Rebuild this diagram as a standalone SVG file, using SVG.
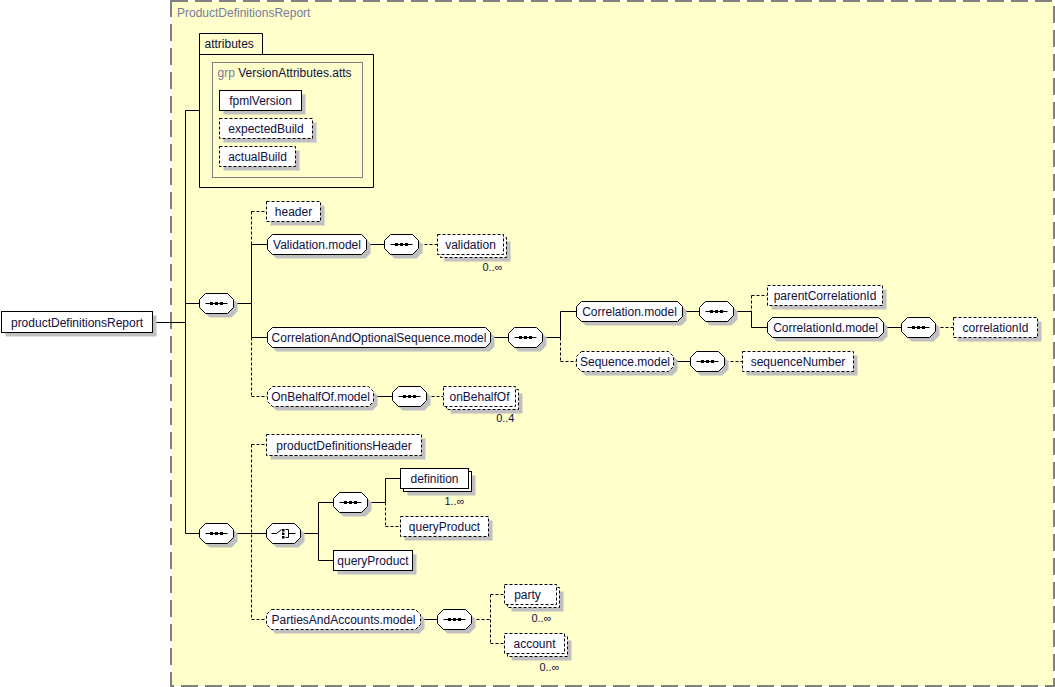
<svg xmlns="http://www.w3.org/2000/svg" xmlns:xlink="http://www.w3.org/1999/xlink" width="1055" height="687" viewBox="0 0 1055 687">
<style>
.el{fill:#fff;stroke:#000;stroke-width:1}
.opt{stroke-dasharray:3,2}
.sh{fill:#c0c0c0;stroke:none}
.ln{stroke:#000;stroke-width:1;fill:none}
.dl{stroke-dasharray:3,2}
.t{font-family:"Liberation Sans",Arial,sans-serif;font-size:12px;fill:#101040}
.tc{text-anchor:middle}
.m{font-family:"Liberation Sans",Arial,sans-serif;font-size:11px;fill:#101040;text-anchor:end}
.g{fill:#7a7a9a}
</style>
<defs>
<g id="seq">
<path class="sh" d="M10 4 H32 L38 10 V18 L32 24 H10 L4 18 V10 Z"/>
<path class="el" d="M6 0 H28 L34 6 V14 L28 20 H6 L0 14 V6 Z"/>
<line class="ln" x1="6" y1="10" x2="28" y2="10"/>
<rect x="10.5" y="8.5" width="3" height="3" fill="#000"/>
<rect x="15.5" y="8.5" width="3" height="3" fill="#000"/>
<rect x="20.5" y="8.5" width="3" height="3" fill="#000"/>
</g>
<g id="choice">
<path class="sh" d="M10 4 H32 L38 10 V18 L32 24 H10 L4 18 V10 Z"/>
<path class="el" d="M6 0 H28 L34 6 V14 L28 20 H6 L0 14 V6 Z"/>
<path class="ln" d="M5 10 H10 L15 6"/>
<rect x="15.5" y="5.5" width="2.5" height="2.5" fill="#000"/>
<rect x="15.5" y="9" width="2.5" height="2.5" fill="#000"/>
<rect x="15.5" y="12.5" width="2.5" height="2.5" fill="#000"/>
<path class="ln" d="M19 6 H22 V14 H19 M22 10 H29"/>
</g>
</defs>
<rect x="0" y="0" width="1055" height="687" fill="#fff"/>
<rect x="171" y="1" width="883" height="685" fill="#ffffcc" stroke="#808080" stroke-width="2" stroke-dasharray="17,7"/>
<text x="177" y="17" class="t g">ProductDefinitionsReport</text>
<g transform="translate(0.5,0.5)">
<g id="connectors">
<path class="ln" d="M152 322 H185 M185 110 V533 M185 110 H199 M185 303 H199 M185 533 H199 M233 303 H251 M251 244 V337 M251 244 H267 M251 337 H267 M366 244 H384 M490 337 H508 M543 337 H560 M560 311 V337 M560 311 H576 M682 311 H699 M733 311 H751 M751 311 V327 M751 327 H767 M883 327 H901 M673 361 H690 M373 396 H392 M233 533 H266 M301 533 H318 M318 502 V560 M318 502 H333 M318 560 H333 M367 502 H385 M385 478 V502 M385 478 H400 M420 619 H437"/>
<path class="ln dl" d="M251 211 V244 M251 211 H266 M251 337 V396 M251 396 H267 M419 244 H437 M560 337 V361 M560 361 H576 M751 295 V311 M751 295 H767 M935 327 H953 M725 361 H742 M426 396 H443 M251 444 V619 M251 444 H266 M251 619 H266 M385 502 V526 M385 526 H400 M471 619 H490 M490 594 V643 M490 594 H504 M490 643 H504"/>
</g>
<g id="productDefinitionsReport">
<rect class="sh" x="5" y="315" width="151" height="21"/>
<rect class="el" x="1" y="311" width="151" height="21"/>
<text x="76.5" y="326" class="t tc">productDefinitionsReport</text>
</g>
<g id="attributes">
<path class="ln" d="M199 33 H262 V54 H373 V187 H199 Z M199 54 H262"/>
<text x="204" y="47" class="t">attributes</text>
<rect x="212" y="62" width="150" height="115" fill="none" stroke="#808080"/>
<text x="217" y="76" class="t"><tspan class="g">grp</tspan> VersionAttributes.atts</text>
</g>
<g id="fpmlVersion">
<rect class="sh" x="223" y="94" width="82" height="20"/>
<rect class="el" x="219" y="90" width="82" height="20"/>
<text x="260" y="104.5" class="t tc">fpmlVersion</text>
</g>
<g id="expectedBuild">
<rect class="sh" x="223" y="122" width="93" height="20"/>
<rect class="el opt" x="219" y="118" width="93" height="20"/>
<text x="265.5" y="132.5" class="t tc">expectedBuild</text>
</g>
<g id="actualBuild">
<rect class="sh" x="223" y="150" width="76" height="20"/>
<rect class="el opt" x="219" y="146" width="76" height="20"/>
<text x="257" y="160.5" class="t tc">actualBuild</text>
</g>
<g id="seq1"><use xlink:href="#seq" href="#seq" x="199" y="293"/></g>
<g id="header">
<rect class="sh" x="270" y="205" width="54" height="20"/>
<rect class="el opt" x="266" y="201" width="54" height="20"/>
<text x="293" y="215.5" class="t tc">header</text>
</g>
<g id="Validation.model">
<path class="sh" transform="translate(4,4)" d="M272 234 H361 L366 239 V249 L361 254 H272 L267 249 V239 Z"/>
<path class="el" d="M272 234 H361 L366 239 V249 L361 254 H272 L267 249 V239 Z"/>
<text x="316.5" y="248.5" class="t tc">Validation.model</text>
</g>
<g id="seq2"><use xlink:href="#seq" href="#seq" x="384" y="234"/></g>
<g id="validation">
<rect class="sh" x="444" y="241" width="66" height="20"/>
<rect class="el opt" x="440" y="237" width="66" height="20"/>
<rect class="el opt" x="437" y="234" width="66" height="20"/>
<text x="470" y="248.5" class="t tc">validation</text>
<text x="502" y="270" class="m">0..∞</text>
</g>
<g id="CorrelationAndOptionalSequence.model">
<path class="sh" transform="translate(4,4)" d="M272 327 H485 L490 332 V342 L485 347 H272 L267 342 V332 Z"/>
<path class="el" d="M272 327 H485 L490 332 V342 L485 347 H272 L267 342 V332 Z"/>
<text x="378.5" y="341.5" class="t tc">CorrelationAndOptionalSequence.model</text>
</g>
<g id="seq3"><use xlink:href="#seq" href="#seq" x="508" y="327"/></g>
<g id="Correlation.model">
<path class="sh" transform="translate(4,4)" d="M581 301 H677 L682 306 V316 L677 321 H581 L576 316 V306 Z"/>
<path class="el" d="M581 301 H677 L682 306 V316 L677 321 H581 L576 316 V306 Z"/>
<text x="629" y="315.5" class="t tc">Correlation.model</text>
</g>
<g id="seq4"><use xlink:href="#seq" href="#seq" x="699" y="301"/></g>
<g id="parentCorrelationId">
<rect class="sh" x="771" y="289" width="115" height="20"/>
<rect class="el opt" x="767" y="285" width="115" height="20"/>
<text x="824.5" y="299.5" class="t tc">parentCorrelationId</text>
</g>
<g id="CorrelationId.model">
<path class="sh" transform="translate(4,4)" d="M772 317 H878 L883 322 V332 L878 337 H772 L767 332 V322 Z"/>
<path class="el" d="M772 317 H878 L883 322 V332 L878 337 H772 L767 332 V322 Z"/>
<text x="825" y="331.5" class="t tc">CorrelationId.model</text>
</g>
<g id="seq5"><use xlink:href="#seq" href="#seq" x="901" y="317"/></g>
<g id="correlationId">
<rect class="sh" x="957" y="321" width="84" height="20"/>
<rect class="el opt" x="953" y="317" width="84" height="20"/>
<text x="995" y="331.5" class="t tc">correlationId</text>
</g>
<g id="Sequence.model">
<path class="sh" transform="translate(4,4)" d="M581 351 H668 L673 356 V366 L668 371 H581 L576 366 V356 Z"/>
<path class="el opt" d="M581 351 H668 L673 356 V366 L668 371 H581 L576 366 V356 Z"/>
<text x="624.5" y="365.5" class="t tc">Sequence.model</text>
</g>
<g id="seq6"><use xlink:href="#seq" href="#seq" x="690" y="351"/></g>
<g id="sequenceNumber">
<rect class="sh" x="746" y="355" width="111" height="20"/>
<rect class="el opt" x="742" y="351" width="111" height="20"/>
<text x="797.5" y="365.5" class="t tc">sequenceNumber</text>
</g>
<g id="OnBehalfOf.model">
<path class="sh" transform="translate(4,4)" d="M272 386 H368 L373 391 V401 L368 406 H272 L267 401 V391 Z"/>
<path class="el opt" d="M272 386 H368 L373 391 V401 L368 406 H272 L267 401 V391 Z"/>
<text x="320" y="400.5" class="t tc">OnBehalfOf.model</text>
</g>
<g id="seq7"><use xlink:href="#seq" href="#seq" x="392" y="386"/></g>
<g id="onBehalfOf">
<rect class="sh" x="450" y="393" width="72" height="20"/>
<rect class="el opt" x="446" y="389" width="72" height="20"/>
<rect class="el opt" x="443" y="386" width="72" height="20"/>
<text x="479" y="400.5" class="t tc">onBehalfOf</text>
<text x="514" y="421" class="m">0..4</text>
</g>
<g id="seq8"><use xlink:href="#seq" href="#seq" x="199" y="523"/></g>
<g id="productDefinitionsHeader">
<rect class="sh" x="270" y="438" width="155" height="21"/>
<rect class="el opt" x="266" y="434" width="155" height="21"/>
<text x="343.5" y="449" class="t tc">productDefinitionsHeader</text>
</g>
<g id="choice1"><use xlink:href="#choice" href="#choice" x="266" y="523"/></g>
<g id="seq9"><use xlink:href="#seq" href="#seq" x="333" y="492"/></g>
<g id="definition">
<rect class="sh" x="407" y="475" width="68" height="20"/>
<rect class="el" x="403" y="471" width="68" height="20"/>
<rect class="el" x="400" y="468" width="68" height="20"/>
<text x="434" y="482.5" class="t tc">definition</text>
<text x="464" y="504" class="m">1..∞</text>
</g>
<g id="queryProduct.opt">
<rect class="sh" x="404" y="520" width="88" height="20"/>
<rect class="el opt" x="400" y="516" width="88" height="20"/>
<text x="444" y="530.5" class="t tc">queryProduct</text>
</g>
<g id="queryProduct">
<rect class="sh" x="337" y="554" width="79" height="20"/>
<rect class="el" x="333" y="550" width="79" height="20"/>
<text x="372.5" y="564.5" class="t tc">queryProduct</text>
</g>
<g id="PartiesAndAccounts.model">
<path class="sh" transform="translate(4,4)" d="M271 609 H415 L420 614 V624 L415 629 H271 L266 624 V614 Z"/>
<path class="el opt" d="M271 609 H415 L420 614 V624 L415 629 H271 L266 624 V614 Z"/>
<text x="343" y="623.5" class="t tc">PartiesAndAccounts.model</text>
</g>
<g id="seq10"><use xlink:href="#seq" href="#seq" x="437" y="609"/></g>
<g id="party">
<rect class="sh" x="511" y="591" width="52" height="20"/>
<rect class="el opt" x="507" y="587" width="52" height="20"/>
<rect class="el opt" x="504" y="584" width="52" height="20"/>
<text x="527" y="598.5" class="t tc">party</text>
<text x="551" y="621" class="m">0..∞</text>
</g>
<g id="account">
<rect class="sh" x="511" y="640" width="60" height="20"/>
<rect class="el opt" x="507" y="636" width="60" height="20"/>
<rect class="el opt" x="504" y="633" width="60" height="20"/>
<text x="534" y="647.5" class="t tc">account</text>
<text x="559" y="670" class="m">0..∞</text>
</g>
</g>
</svg>
